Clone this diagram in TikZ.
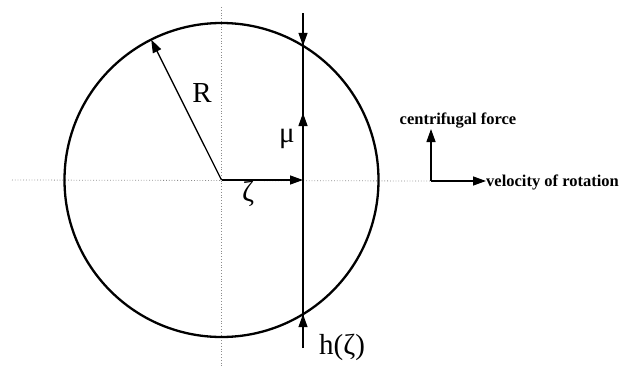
\documentclass[tikz,border=0pt]{standalone}
\usepackage{fontspec}
\setmainfont{Liberation Serif}
\usetikzlibrary{arrows.meta,calc}
\definecolor{AxisClr}{rgb}{0.55,0.55,0.55}
\tikzset{
  vec/.style={line width=1.3pt,-{Triangle[length=13pt,width=9pt]}},
  axisline/.style={color=AxisClr,line width=0.8pt,dotted},
  biglabel/.style={font=\fontsize{29}{31}\selectfont},
  smalllabel/.style={font=\fontsize{16.5}{18}\selectfont\bfseries,inner sep=0pt}
}
\begin{document}
\begin{tikzpicture}[x=1pt,y=1pt]
\useasboundingbox (0,0) rectangle (631,368);
\coordinate (O) at (221.5,188);
\coordinate (Top) at (303,355);
\coordinate (Bot) at (303,20);
\coordinate (Qtop) at (303,322.2);
\coordinate (Qmid) at (303,255);
\coordinate (Qbot) at (303,53.8);
\coordinate (Zeta) at (303,188);
\coordinate (Rim) at ($(O)+(116.6:157)$);
\coordinate (C) at (431,187);
% dotted axes through the centre
\draw[axisline] (12,188) -- (C);
\draw[axisline] (221.5,361) -- (221.5,0);
\draw[line width=2.3pt] (O) circle (157);
% chord and its arrows
\draw[line width=1.6pt] (Top) -- (Bot);
\draw[vec] (Top) -- (Qtop);
\draw[vec] (Qtop) ++(0,-100) -- (Qmid);
\draw[vec] (Bot) -- (Qbot);
\draw[vec] (O) -- (Zeta);
\draw[vec] (O) -- (Rim);
\node[biglabel] (R) at (202,275) {R};
\node[biglabel] (mu) at (287,229) {μ};
\node[biglabel] (zeta) at (248,174) {ζ};
\node[biglabel] (h) at (342,21) {h(ζ)};
% legend
\node[smalllabel] (force) at (458,247) {centrifugal force};
\node[smalllabel,anchor=west] (vel) at (486,186) {velocity of rotation};
\draw[vec] (C) -- (431,239);
\draw[vec] (C) -- (C -| vel.west);
\end{tikzpicture}
\end{document}
